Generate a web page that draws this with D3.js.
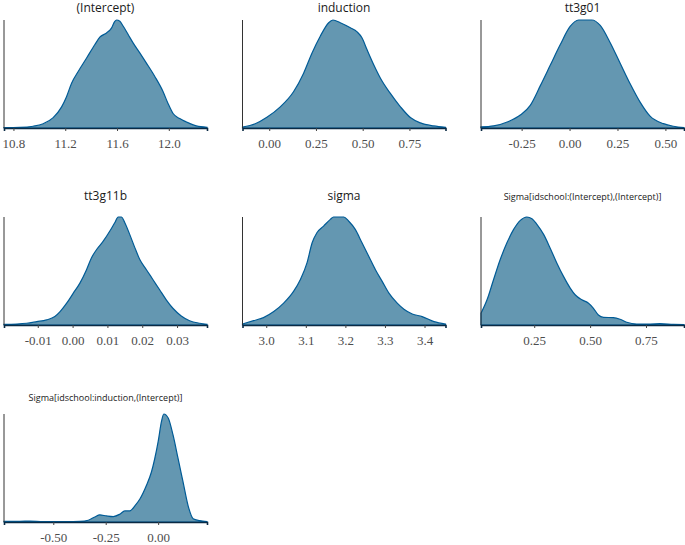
<!DOCTYPE html>
<html>
<head>
<meta charset="utf-8">
<script src="https://cdn.jsdelivr.net/npm/d3@7"></script>
<style>
    body { margin: 0; background: #fff; }
    svg { display: block; }
</style>
</head>
<body>
<div id="vis"></div>
<script>
// parameter names, in facet order
const titles = ['(Intercept)', 'induction', 'tt3g01', 'tt3g11b', 'sigma',
    'Sigma[idschool:(Intercept),(Intercept)]', 'Sigma[idschool:induction,(Intercept)]'];

// posterior densities: [value, relative density]
const interceptDens = [[10.727,0.003],[10.85,0.005],[10.953,0.016],[11.03,0.04],[11.107,0.096],[11.172,0.196],
    [11.21,0.29],[11.249,0.415],[11.30,0.523],[11.365,0.648],[11.429,0.773],[11.467,0.841],[11.519,0.88],
    [11.557,0.925],[11.583,0.988],[11.596,1.0],[11.622,0.988],[11.647,0.944],[11.686,0.866],[11.724,0.788],
    [11.776,0.695],[11.827,0.601],[11.892,0.477],[11.956,0.336],[11.994,0.227],[12.033,0.134],[12.084,0.087],
    [12.136,0.056],[12.213,0.019],[12.295,0.006]];
const inductionDens = [[-0.143,0.009],[-0.075,0.04],[-0.0125,0.10],[0.059,0.196],[0.13,0.336],[0.184,0.508],
    [0.229,0.695],[0.273,0.85],[0.318,0.975],[0.341,1.0],[0.380,0.975],[0.434,0.928],[0.470,0.89],[0.496,0.835],
    [0.523,0.726],[0.559,0.586],[0.595,0.461],[0.648,0.32],[0.702,0.196],[0.755,0.097],[0.809,0.047],
    [0.88,0.019],[0.943,0.006]];
const tt3g01Dens = [[-0.462,0.01],[-0.396,0.02],[-0.318,0.06],[-0.257,0.12],[-0.205,0.21],[-0.153,0.39],
    [-0.101,0.58],[-0.049,0.77],[0.003,0.94],[0.047,1.0],[0.116,1.0],[0.16,0.95],[0.212,0.79],[0.264,0.60],
    [0.316,0.41],[0.368,0.24],[0.42,0.11],[0.49,0.04],[0.542,0.016],[0.597,0.003]];
const tt3g11bDens = [[-0.0197,0.006],[-0.0132,0.016],[-0.0103,0.031],[-0.0075,0.047],[-0.0051,0.078],
    [-0.0036,0.124],[-0.0017,0.202],[0.0002,0.295],[0.0021,0.388],[0.0040,0.512],[0.0054,0.621],[0.0069,0.699],
    [0.0088,0.776],[0.0107,0.87],[0.0121,0.947],[0.0131,1.0],[0.0140,1.0],[0.0150,0.947],[0.0164,0.839],
    [0.0179,0.714],[0.0193,0.606],[0.0212,0.512],[0.0231,0.419],[0.0250,0.326],[0.0269,0.233],[0.0288,0.155],
    [0.0312,0.084],[0.0336,0.04],[0.0365,0.016],[0.0386,0.006]];
const sigmaDens = [[2.94,0.009],[2.968,0.04],[2.993,0.068],[3.019,0.124],[3.044,0.202],[3.069,0.311],
    [3.086,0.419],[3.103,0.575],[3.116,0.761],[3.128,0.854],[3.145,0.916],[3.162,0.978],[3.17,1.0],[3.196,1.0],
    [3.208,0.963],[3.225,0.885],[3.242,0.761],[3.259,0.637],[3.276,0.512],[3.293,0.404],[3.31,0.295],
    [3.331,0.202],[3.348,0.146],[3.369,0.102],[3.394,0.078],[3.424,0.031],[3.453,0.009]];
const sigmaIntDens = [[0.012,0.109],[0.039,0.233],[0.068,0.419],[0.098,0.606],[0.128,0.761],[0.158,0.885],
    [0.188,0.969],[0.217,1.0],[0.24,0.984],[0.262,0.932],[0.292,0.839],[0.321,0.714],[0.351,0.575],[0.381,0.45],
    [0.411,0.342],[0.433,0.28],[0.463,0.233],[0.493,0.202],[0.515,0.155],[0.537,0.093],[0.56,0.071],
    [0.604,0.068],[0.634,0.053],[0.664,0.025],[0.708,0.009],[0.768,0.009],[0.812,0.012],[0.872,0.006],[0.92,0.003]];
const sigmaIndDens = [[-0.735,0.006],[-0.659,0.006],[-0.611,0.009],[-0.548,0.003],[-0.437,0.003],[-0.373,0.006],
    [-0.333,0.016],[-0.302,0.047],[-0.278,0.066],[-0.246,0.056],[-0.214,0.05],[-0.183,0.072],[-0.159,0.103],
    [-0.135,0.103],[-0.111,0.15],[-0.087,0.213],[-0.056,0.338],[-0.032,0.463],[-0.016,0.588],[0,0.744],
    [0.016,0.931],[0.027,1.0],[0.048,0.963],[0.071,0.806],[0.095,0.588],[0.119,0.369],[0.143,0.15],
    [0.167,0.031],[0.198,0.013],[0.233,0.003]];

// tick labels for each facet
const interceptTicks = [10.8, 11.2, 11.6, 12.0];
const inductionTicks = [0, 0.25, 0.5, 0.75];
const tt3g01Ticks = [-0.25, 0, 0.25, 0.5];
const tt3g11bTicks = [-0.01, 0, 0.01, 0.02, 0.03];
const sigmaTicks = [3.0, 3.1, 3.2, 3.3, 3.4];
const sigmaIntTicks = [0.25, 0.5, 0.75];
const sigmaIndTicks = [-0.5, -0.25, 0];

const tickDigits = [1, 2, 2, 2, 1, 2, 2];
const densities = [interceptDens, inductionDens, tt3g01Dens, tt3g11bDens, sigmaDens, sigmaIntDens, sigmaIndDens];
const ticks = [interceptTicks, inductionTicks, tt3g01Ticks, tt3g11bTicks, sigmaTicks, sigmaIntTicks, sigmaIndTicks];

var width = 685, height = 545;
var panelW = 203, panelH = 108,
    colStep = 238.5, rowStep = 197,
    marginLeft = 4, marginTop = 20;
// title baselines per row (absolute), the strips are not evenly spaced
var titleY = [12, 200, 401];

var svg = d3.select("#vis")
    .append("svg")
    .attr("width", width)
    .attr("height", height);

densities.forEach(function(dens, i) {
    var col = i % 3, row = Math.floor(i / 3);
    var gx = marginLeft + col * colStep,
        gy = marginTop + row * rowStep;
    var g = svg.append("g")
        .attr("transform", "translate(" + gx + "," + gy + ")");

    var x = d3.scaleLinear()
        .domain(d3.extent(dens, d => d[0]))
        .range([0, panelW]);
    var y = d3.scaleLinear()
        .domain([0, d3.max(dens, d => d[1])])
        .range([panelH, 0]);

    var area = d3.area()
        .x(d => x(d[0]))
        .y0(panelH)
        .y1(d => y(d[1]))
        .curve(d3.curveMonotoneX);

    g.append("path")
        .datum(dens)
        .attr("d", area)
        .attr("fill", "#6497b1")
        .attr("stroke", "#005b96")
        .attr("stroke-width", 1.2);

    // y axis line only, no ticks
    g.append("line")
        .attr("x1", 0).attr("x2", 0)
        .attr("y1", 0).attr("y2", panelH)
        .attr("stroke", "#333")
        .attr("stroke-width", 1);

    var axis = g.append("g")
        .attr("transform", "translate(0," + panelH + ")")
        .call(d3.axisBottom(x)
            .tickValues(ticks[i])
            .tickSize(3)
            .tickPadding(8)
            .tickFormat(d => d.toFixed(tickDigits[i])));
    axis.select(".domain")
        .attr("stroke", "#0a2a44")
        .attr("stroke-width", 1.6);
    axis.selectAll(".tick line").attr("stroke", "#444");
    axis.selectAll(".tick text")
        .style("font-family", "'Liberation Serif', serif")
        .style("font-size", "13px")
        .style("fill", "#4d4d4d");

    var small = titles[i].length > 15;
    g.append("text")
        .attr("x", panelW / 2)
        .attr("y", titleY[row] - gy)
        .attr("text-anchor", "middle")
        .style("font-family", "'Open Sans', sans-serif")
        .style("font-size", small ? "9px" : "12px")
        .style("fill", "#1a1a1a")
        .text(titles[i]);
});
</script>
</body>
</html>
